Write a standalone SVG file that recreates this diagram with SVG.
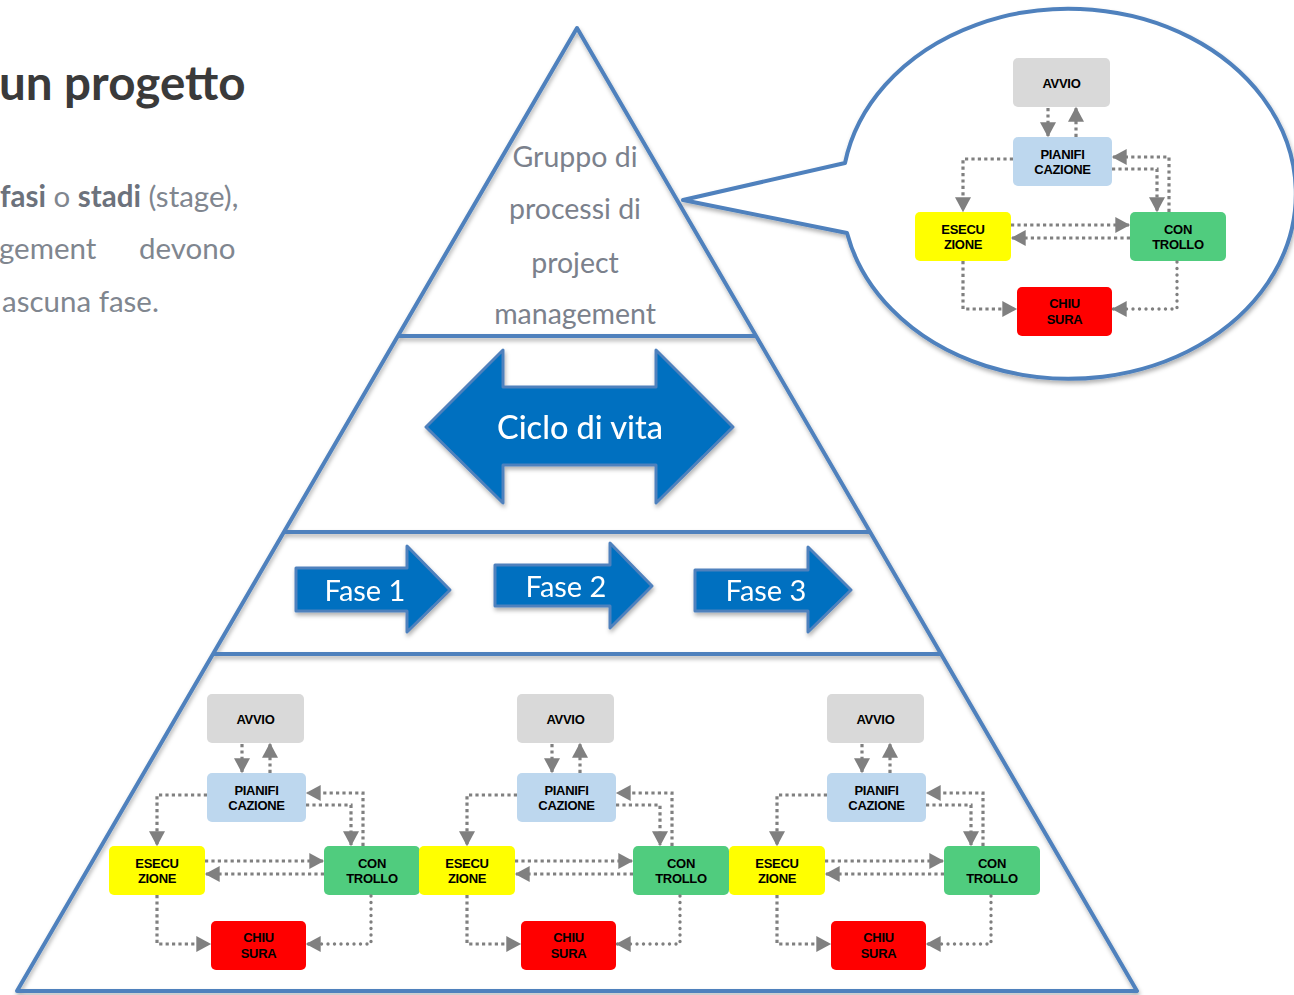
<svg xmlns="http://www.w3.org/2000/svg" xmlns:xlink="http://www.w3.org/1999/xlink" width="1294" height="995" viewBox="0 0 1294 995">
  <style>
    .outline { fill: none; stroke: #4f81bd; stroke-width: 4; stroke-linejoin: round; }
    .bigarrow { fill: #0070c0; stroke: #4f81bd; stroke-width: 3; stroke-linejoin: round; }
    .arrowtxt { font-family: Lato, "Open Sans", sans-serif; fill: #ffffff; text-anchor: middle; }
    .layertxt { font-family: Lato, "Open Sans", sans-serif; font-size: 28.5px; fill: #7b818c; text-anchor: middle; }
    .heading { font-family: Lato, "Open Sans", sans-serif; font-weight: bold; font-size: 47.5px; fill: #3a3a3a; }
    .body { font-family: Lato, "Open Sans", sans-serif; font-size: 29.5px; fill: #80868f; }
    .body .b { font-weight: bold; fill: #6c727c; }
    .box { stroke: none; }
    .avvio { fill: #d9d9d9; }
    .pian { fill: #bdd7ee; }
    .esec { fill: #ffff00; }
    .cont { fill: #50cc7e; }
    .chiu { fill: #ff0000; }
    .lbl { font-family: "Liberation Sans", Arial, sans-serif; font-weight: bold; font-size: 13px; fill: #000000; text-anchor: middle; letter-spacing: -0.3px; }
    .link { fill: none; stroke: #808080; stroke-width: 3.2; stroke-dasharray: 3.2 3.2; marker-end: url(#head); }
    .link.round { stroke-width: 3.4; stroke-dasharray: 0 6.5; stroke-linecap: round; }
  </style>
  <defs>
    <marker id="head" markerUnits="userSpaceOnUse" markerWidth="16" markerHeight="16" viewBox="0 0 13 14" refX="12" refY="7" orient="auto">
      <path d="M0,0 L13,7 L0,14 Z" fill="#808080"/>
    </marker>
    <filter id="shadow" x="-10%" y="-10%" width="120%" height="130%">
      <feDropShadow dx="1" dy="3" stdDeviation="2" flood-color="#000000" flood-opacity="0.3"/>
    </filter>
  </defs>

  <rect width="1294" height="995" fill="#ffffff"/>

  <!-- page text on the left -->
  <text class="heading" x="-1" y="100">un progetto</text>
  <text class="body" x="0" y="207"><tspan class="b">fasi</tspan> o <tspan class="b">stadi</tspan> (stage),</text>
  <text class="body" y="259"><tspan x="-1">gement</tspan><tspan x="139">devono</tspan></text>
  <text class="body" x="2" y="312">ascuna fase.</text>

  <!-- pyramid outline and layer dividers -->
  <g id="pyramid" filter="url(#shadow)">
    <path class="outline" d="M577,28 L1137,991 L17,991 Z"/>
    <line class="outline" x1="398" y1="336" x2="756" y2="336"/>
    <line class="outline" x1="285" y1="532" x2="869" y2="532"/>
    <line class="outline" x1="213" y1="654" x2="941" y2="654"/>
  </g>

  <!-- top layer -->
  <g id="layer-processi">
    <text class="layertxt" x="575" y="167">Gruppo di</text>
    <text class="layertxt" x="575" y="219">processi di</text>
    <text class="layertxt" x="575" y="273">project</text>
    <text class="layertxt" x="575" y="324">management</text>
  </g>

  <!-- life cycle double arrow -->
  <g id="ciclo-di-vita" filter="url(#shadow)">
    <path class="bigarrow" d="M426,427 L503,350 L503,387 L656,387 L656,350 L733,427 L656,503 L656,465 L503,465 L503,503 Z"/>
    <text class="arrowtxt" x="580" y="439" font-size="32.5" font-weight="500">Ciclo di vita</text>
  </g>

  <!-- phases -->
  <g id="fase-1" filter="url(#shadow)">
    <path class="bigarrow" d="M296,568 L407,568 L407,546 L450,590 L407,632 L407,611 L296,611 Z"/>
    <text class="arrowtxt" x="365" y="601" font-size="29">Fase 1</text>
  </g>
  <g id="fase-2" filter="url(#shadow)">
    <path class="bigarrow" d="M495,565 L610,565 L610,543 L652,586 L610,628 L610,606 L495,606 Z"/>
    <text class="arrowtxt" x="566" y="597" font-size="29">Fase 2</text>
  </g>
  <g id="fase-3" filter="url(#shadow)">
    <path class="bigarrow" d="M695,570 L808,570 L808,547 L851,590 L808,632 L808,611 L695,611 Z"/>
    <text class="arrowtxt" x="766" y="601" font-size="29">Fase 3</text>
  </g>

  <!-- zoom callout -->
  <g id="callout" filter="url(#shadow)">
    <path d="M845,163 A227,185 0 1 1 847,233 L683,200 Z" fill="#ffffff" stroke="#4f81bd" stroke-width="4" stroke-linejoin="round"/>
  </g>

  <!-- process cycle inside the callout -->
  <g id="cycle-callout">
    <g id="cc-avvio"><rect class="box avvio" x="1013" y="58" width="97" height="49" rx="5"/><text class="lbl" x="1061.5" y="87.5">AVVIO</text></g>
    <g id="cc-pianificazione"><rect class="box pian" x="1013" y="137" width="99" height="49" rx="5"/><text class="lbl" x="1062.5" y="158.5">PIANIFI</text><text class="lbl" x="1062.5" y="174">CAZIONE</text></g>
    <g id="cc-esecuzione"><rect class="box esec" x="915" y="212" width="96" height="49" rx="5"/><text class="lbl" x="963" y="233.5">ESECU</text><text class="lbl" x="963" y="249">ZIONE</text></g>
    <g id="cc-controllo"><rect class="box cont" x="1130" y="212" width="96" height="49" rx="5"/><text class="lbl" x="1178" y="233.5">CON</text><text class="lbl" x="1178" y="249">TROLLO</text></g>
    <g id="cc-chiusura"><rect class="box chiu" x="1017" y="287" width="95" height="49" rx="5"/><text class="lbl" x="1064.5" y="308">CHIU</text><text class="lbl" x="1064.5" y="323.5">SURA</text></g>
    <g id="cc-links">
      <path class="link" d="M1048,108 L1048,136"/>
      <path class="link" d="M1076,137 L1076,108"/>
      <path class="link" d="M1013,159 L963,159 L963,211"/>
      <path class="link" d="M1112,169 L1157,169 L1157,211"/>
      <path class="link" d="M1169,212 L1169,157 L1113,157"/>
      <path class="link" d="M1011,225 L1129,225"/>
      <path class="link" d="M1130,238 L1012,238"/>
      <path class="link" d="M963,261 L963,309 L1016,309"/>
      <path class="link round" d="M1177,262 L1177,309 L1113,309"/>
    </g>
  </g>

  <!-- process cycle for phase 1 -->
  <g id="cycle-fase-1" transform="translate(-806,634)">
    <g id="f1-avvio"><rect class="box avvio" x="1013" y="60" width="97" height="49" rx="5"/><text class="lbl" x="1061.5" y="89.5">AVVIO</text></g>
    <g id="f1-pianificazione"><rect class="box pian" x="1013" y="139" width="99" height="49" rx="5"/><text class="lbl" x="1062.5" y="160.5">PIANIFI</text><text class="lbl" x="1062.5" y="176">CAZIONE</text></g>
    <g id="f1-esecuzione"><rect class="box esec" x="915" y="212" width="96" height="49" rx="5"/><text class="lbl" x="963" y="233.5">ESECU</text><text class="lbl" x="963" y="249">ZIONE</text></g>
    <g id="f1-controllo"><rect class="box cont" x="1130" y="212" width="96" height="49" rx="5"/><text class="lbl" x="1178" y="233.5">CON</text><text class="lbl" x="1178" y="249">TROLLO</text></g>
    <g id="f1-chiusura"><rect class="box chiu" x="1017" y="287" width="95" height="49" rx="5"/><text class="lbl" x="1064.5" y="308">CHIU</text><text class="lbl" x="1064.5" y="323.5">SURA</text></g>
    <g id="f1-links">
      <path class="link" d="M1048,110 L1048,138"/>
      <path class="link" d="M1076,139 L1076,110"/>
      <path class="link" d="M1013,161 L963,161 L963,211"/>
      <path class="link" d="M1112,171 L1157,171 L1157,211"/>
      <path class="link" d="M1169,212 L1169,159 L1113,159"/>
      <path class="link" d="M1011,227 L1129,227"/>
      <path class="link" d="M1130,240 L1012,240"/>
      <path class="link" d="M963,261 L963,310 L1016,310"/>
      <path class="link round" d="M1177,262 L1177,310 L1113,310"/>
    </g>
  </g>

  <!-- process cycle for phase 2 -->
  <g id="cycle-fase-2" transform="translate(-496,634)">
    <g id="f2-avvio"><rect class="box avvio" x="1013" y="60" width="97" height="49" rx="5"/><text class="lbl" x="1061.5" y="89.5">AVVIO</text></g>
    <g id="f2-pianificazione"><rect class="box pian" x="1013" y="139" width="99" height="49" rx="5"/><text class="lbl" x="1062.5" y="160.5">PIANIFI</text><text class="lbl" x="1062.5" y="176">CAZIONE</text></g>
    <g id="f2-esecuzione"><rect class="box esec" x="915" y="212" width="96" height="49" rx="5"/><text class="lbl" x="963" y="233.5">ESECU</text><text class="lbl" x="963" y="249">ZIONE</text></g>
    <g id="f2-controllo"><rect class="box cont" x="1129" y="212" width="96" height="49" rx="5"/><text class="lbl" x="1177" y="233.5">CON</text><text class="lbl" x="1177" y="249">TROLLO</text></g>
    <g id="f2-chiusura"><rect class="box chiu" x="1017" y="287" width="95" height="49" rx="5"/><text class="lbl" x="1064.5" y="308">CHIU</text><text class="lbl" x="1064.5" y="323.5">SURA</text></g>
    <g id="f2-links">
      <path class="link" d="M1048,110 L1048,138"/>
      <path class="link" d="M1076,139 L1076,110"/>
      <path class="link" d="M1013,161 L963,161 L963,211"/>
      <path class="link" d="M1112,171 L1156,171 L1156,211"/>
      <path class="link" d="M1168,212 L1168,159 L1113,159"/>
      <path class="link" d="M1011,227 L1128,227"/>
      <path class="link" d="M1129,240 L1012,240"/>
      <path class="link" d="M963,261 L963,310 L1016,310"/>
      <path class="link round" d="M1176,262 L1176,310 L1113,310"/>
    </g>
  </g>

  <!-- process cycle for phase 3 -->
  <g id="cycle-fase-3" transform="translate(-186,634)">
    <g id="f3-avvio"><rect class="box avvio" x="1013" y="60" width="97" height="49" rx="5"/><text class="lbl" x="1061.5" y="89.5">AVVIO</text></g>
    <g id="f3-pianificazione"><rect class="box pian" x="1013" y="139" width="99" height="49" rx="5"/><text class="lbl" x="1062.5" y="160.5">PIANIFI</text><text class="lbl" x="1062.5" y="176">CAZIONE</text></g>
    <g id="f3-esecuzione"><rect class="box esec" x="915" y="212" width="96" height="49" rx="5"/><text class="lbl" x="963" y="233.5">ESECU</text><text class="lbl" x="963" y="249">ZIONE</text></g>
    <g id="f3-controllo"><rect class="box cont" x="1130" y="212" width="96" height="49" rx="5"/><text class="lbl" x="1178" y="233.5">CON</text><text class="lbl" x="1178" y="249">TROLLO</text></g>
    <g id="f3-chiusura"><rect class="box chiu" x="1017" y="287" width="95" height="49" rx="5"/><text class="lbl" x="1064.5" y="308">CHIU</text><text class="lbl" x="1064.5" y="323.5">SURA</text></g>
    <g id="f3-links">
      <path class="link" d="M1048,110 L1048,138"/>
      <path class="link" d="M1076,139 L1076,110"/>
      <path class="link" d="M1013,161 L963,161 L963,211"/>
      <path class="link" d="M1112,171 L1157,171 L1157,211"/>
      <path class="link" d="M1169,212 L1169,159 L1113,159"/>
      <path class="link" d="M1011,227 L1129,227"/>
      <path class="link" d="M1130,240 L1012,240"/>
      <path class="link" d="M963,261 L963,310 L1016,310"/>
      <path class="link round" d="M1177,262 L1177,310 L1113,310"/>
    </g>
  </g>
</svg>
